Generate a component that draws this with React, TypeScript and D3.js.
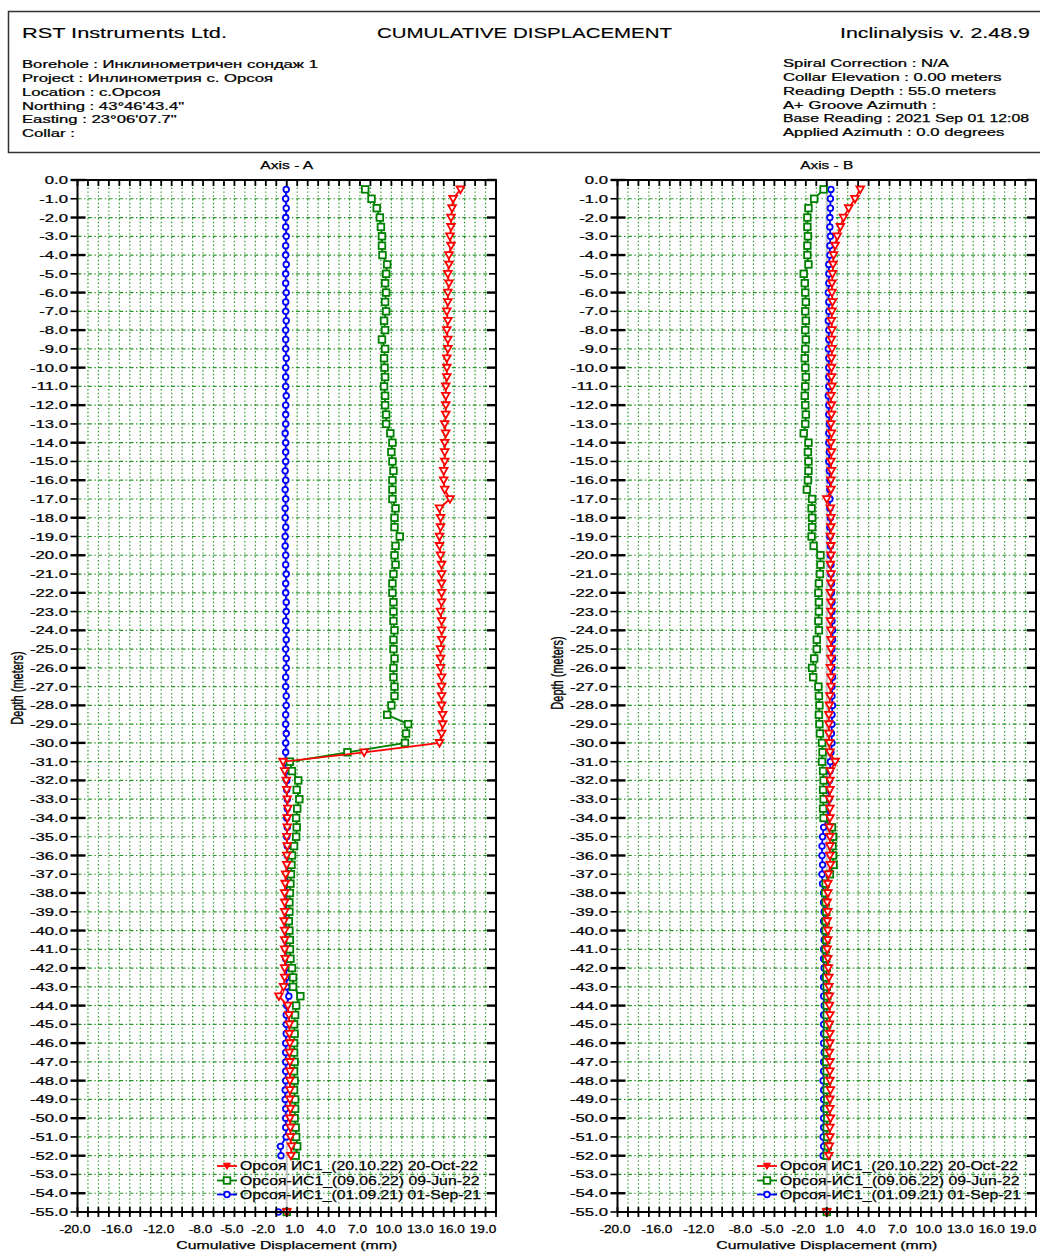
import React from "react";
import * as d3 from "d3";

const FONT = "'Liberation Sans', Arial, Helvetica, sans-serif";
const STRETCH = 1.45;

// ---- axes / categories ----
const DEPTH_STEP = 0.5; // reading interval (m)
const DEPTH_MAX = 55;
const X_MIN = -20;
const X_MAX = 20;
const xTickValues = [-20, -16, -12, -8, -5, -2, 1, 4, 7, 10, 13, 16, 19];
const xTickLabels = ["-20.0", "-16.0", "-12.0", "-8.0", "-5.0", "-2.0", "1.0", "4.0", "7.0", "10.0", "13.0", "16.0", "19.0"];

const headerLeft = [
  "Borehole : Инклинометричен сондаж 1",
  "Project : Инлинометрия с. Орсоя",
  "Location : с.Орсоя",
  "Northing : 43°46'43.4\"",
  "Easting : 23°06'07.7\"",
  "Collar :",
];
const headerRight = [
  "Spiral Correction : N/A",
  "Collar Elevation : 0.00 meters",
  "Reading Depth : 55.0 meters",
  "A+ Groove Azimuth :",
  "Base Reading : 2021 Sep 01 12:08",
  "Applied Azimuth : 0.0 degrees",
];
const legendLabels = [
  "Орсоя ИС1_(20.10.22) 20-Oct-22",
  "Орсоя-ИС1_(09.06.22) 09-Jun-22",
  "Орсоя-ИС1_(01.09.21) 01-Sep-21",
];

// ---- Axis A data: depth 0.5 .. 52.0 m ----
const axisA_oct22 = [
  16.6, 15.9, 15.8, 15.7, 15.7, 15.6, 15.7, 15.5, 15.5, 15.4,
  15.5, 15.4, 15.4, 15.3, 15.4, 15.3, 15.4, 15.4, 15.3, 15.3,
  15.3, 15.2, 15.2, 15.2, 15.2, 15.1, 15.2, 15.1, 15.1, 15.1,
  15.0, 15.0, 15.1, 15.6, 14.6, 14.7, 14.7, 14.6, 14.6, 14.7,
  14.8, 14.8, 14.8, 14.8, 14.8, 14.7, 14.8, 14.8, 14.8, 14.7,
  14.7, 14.7, 14.8, 14.8, 14.8, 14.8, 14.9, 14.9, 14.8, 14.6,
  7.4, -0.35, -0.2, -0.05, 0.0, 0.05, 0.1, 0.05, 0.05, 0.0,
  0.05, 0.0, 0.0, -0.1, -0.15, -0.2, -0.2, -0.2, -0.25, -0.2,
  -0.2, -0.2, -0.15, -0.2, -0.2, -0.3, -0.75, 0.1, 0.2, 0.25,
  0.25, 0.3, 0.25, 0.3, 0.3, 0.3, 0.3, 0.3, 0.35, 0.3,
  0.35, 0.35, 0.45, 0.4,
];
const axisA_jun22 = [
  7.5, 8.1, 8.6, 8.9, 9.0, 9.1, 9.1, 9.15, 9.6, 9.5,
  9.4, 9.5, 9.4, 9.5, 9.3, 9.4, 9.1, 9.4, 9.3, 9.35,
  9.4, 9.3, 9.4, 9.4, 9.5, 9.5, 9.9, 10.1, 10.0, 10.1,
  10.2, 10.1, 10.1, 10.1, 10.4, 10.3, 10.3, 10.8, 10.4, 10.3,
  10.4, 10.2, 10.1, 10.1, 10.2, 10.2, 10.2, 10.3, 10.2, 10.2,
  10.3, 10.2, 10.2, 10.3, 10.3, 10.0, 9.6, 11.6, 11.4, 11.3,
  5.8, 0.3, 0.5, 1.1, 0.95, 1.2, 1.0, 0.9, 0.95, 0.9,
  0.7, 0.5, 0.45, 0.4, 0.35, 0.3, 0.25, 0.25, 0.2, 0.25,
  0.3, 0.3, 0.35, 0.5, 0.6, 0.6, 1.3, 0.9, 0.8, 0.7,
  0.75, 0.7, 0.7, 0.75, 0.7, 0.75, 0.7, 0.8, 0.8, 0.75,
  0.85, 0.9, 1.0, 0.85,
];
const axisA_sep21 = [
  -0.05, -0.1, -0.05, -0.1, -0.1, -0.05, -0.1, -0.1, -0.05, -0.1,
  -0.1, -0.05, -0.1, -0.1, -0.05, -0.1, -0.1, -0.1, -0.05, -0.1,
  -0.1, -0.1, -0.05, -0.1, -0.1, -0.1, -0.15, -0.1, -0.1, -0.1,
  -0.15, -0.1, -0.15, -0.1, -0.15, -0.15, -0.1, -0.15, -0.15, -0.1,
  -0.1, -0.05, -0.1, -0.1, -0.05, -0.05, -0.1, -0.05, -0.05, -0.1,
  -0.05, -0.05, -0.1, -0.1, -0.05, -0.05, -0.1, -0.1, -0.05, -0.1,
  -0.1, -0.15, -0.1, 0.0, 0.0, 0.05, 0.05, 0.0, 0.05, 0.0,
  0.05, 0.05, 0.1, 0.05, 0.0, -0.05, -0.05, -0.1, -0.1, -0.1,
  -0.1, -0.1, -0.1, -0.1, -0.05, 0.0, 0.2, 0.0, -0.05, -0.05,
  -0.05, -0.1, -0.1, -0.1, -0.1, -0.1, -0.15, -0.15, -0.1, -0.1,
  -0.1, -0.05, -0.6, -0.55,
];
// isolated readings at 55.0 m
const axisA_bottom = [0.0, 0.0, -0.8]; // oct22, jun22, sep21

// ---- Axis B data: depth 0.5 .. 52.0 m ----
const axisB_oct22 = [
  3.2, 2.7, 2.1, 1.6, 1.3, 1.0, 0.8, 0.65, 0.6, 0.55,
  0.5, 0.5, 0.55, 0.5, 0.45, 0.5, 0.45, 0.5, 0.45, 0.45,
  0.45, 0.5, 0.4, 0.45, 0.45, 0.4, 0.45, 0.4, 0.45, 0.4,
  0.45, 0.4, 0.4, 0.0, 0.35, 0.4, 0.4, 0.35, 0.4, 0.4,
  0.35, 0.4, 0.4, 0.35, 0.4, 0.4, 0.35, 0.4, 0.4, 0.4,
  0.4, 0.35, 0.4, 0.4, 0.3, 0.25, 0.2, 0.2, 0.2, 0.25,
  0.3, 0.8, 0.35, 0.3, 0.3, 0.25, 0.3, 0.3, 0.25, 0.3,
  0.3, 0.3, 0.35, 0.15, 0.1, 0.1, 0.05, 0.1, 0.05, 0.1,
  0.1, 0.05, 0.1, 0.15, 0.2, 0.2, 0.25, 0.25, 0.3, 0.25,
  0.3, 0.3, 0.25, 0.3, 0.3, 0.3, 0.35, 0.3, 0.3, 0.35,
  0.3, 0.3, 0.25, 0.2,
];
const axisB_jun22 = [
  -0.3, -1.2, -1.75, -1.85, -1.85, -1.8, -1.85, -1.85, -1.75, -2.2,
  -2.1, -2.05, -2.0, -2.05, -2.0, -2.05, -2.0, -2.05, -2.1, -2.05,
  -2.0, -2.05, -2.1, -2.05, -2.0, -2.05, -2.2, -1.75, -1.8, -1.75,
  -1.75, -1.8, -1.9, -1.4, -1.45, -1.4, -1.4, -1.45, -1.25, -0.6,
  -0.6, -0.65, -0.75, -0.8, -0.75, -0.75, -0.8, -0.75, -0.95, -0.95,
  -1.2, -1.4, -1.3, -0.8, -0.75, -0.7, -0.75, -0.7, -0.65, -0.45,
  -0.4, -0.45, -0.35, -0.3, -0.35, -0.3, -0.35, -0.3, 0.5, 0.6,
  0.55, 0.6, 0.65, 0.3, -0.1, -0.15, -0.1, -0.05, -0.1, -0.1,
  -0.05, -0.1, -0.05, 0.0, -0.05, 0.0, 0.05, 0.0, 0.0, 0.05,
  0.0, 0.05, 0.0, -0.05, 0.0, 0.05, 0.0, 0.05, 0.0, 0.05,
  0.0, 0.05, 0.1, 0.0,
];
const axisB_sep21 = [
  0.4, 0.35, 0.35, 0.3, 0.3, 0.35, 0.3, 0.3, 0.2, 0.2,
  0.2, 0.15, 0.2, 0.2, 0.15, 0.2, 0.2, 0.15, 0.2, 0.2,
  0.2, 0.2, 0.15, 0.2, 0.2, 0.25, 0.2, 0.2, 0.25, 0.2,
  0.25, 0.3, 0.3, 0.3, 0.3, 0.35, 0.3, 0.3, 0.35, 0.35,
  0.4, 0.4, 0.45, 0.45, 0.5, 0.5, 0.5, 0.55, 0.55, 0.5,
  0.55, 0.5, 0.55, 0.5, 0.5, 0.55, 0.5, 0.5, 0.45, 0.5,
  0.4, 0.35, 0.3, 0.25, 0.2, 0.2, 0.15, 0.1, -0.3, -0.4,
  -0.45, -0.45, -0.4, -0.45, -0.4, -0.3, -0.3, -0.25, -0.3, -0.3,
  -0.25, -0.3, -0.3, -0.25, -0.3, -0.3, -0.3, -0.25, -0.3, -0.3,
  -0.3, -0.3, -0.25, -0.3, -0.3, -0.35, -0.3, -0.3, -0.3, -0.3,
  -0.3, -0.35, -0.3, -0.35,
];
const axisB_bottom = [0.0, 0.0, 0.0];

// ---- layout ----
const W = 1040;
const H = 1254;
const Y_TOP = 180;
const Y_BOT = 1212;
const COLORS = ["#ff0000", "#008000", "#0000ff"];
const GRID = "#2a962a";

type STProps = {
  x: number; y: number; size: number; anchor?: string; len?: number; sx?: number;
  children: React.ReactNode; baseline?: string; rotate?: number; heavy?: number;
};
function ST({ x, y, size, anchor = "start", len, sx = STRETCH, children, baseline, rotate, heavy = 0.25 }: STProps) {
  const common = {
    fontSize: size,
    textAnchor: anchor as any,
    dominantBaseline: baseline as any,
    fontFamily: FONT,
    fill: "#000",
    stroke: "#000",
    strokeWidth: heavy,
  };
  if (len) {
    return (
      <text x={x} y={y} textLength={len} lengthAdjust="spacingAndGlyphs" {...common}>
        {children}
      </text>
    );
  }
  const t = `translate(${x},${y}) scale(${sx},1)` + (rotate ? ` rotate(${rotate})` : "");
  return (
    <text transform={t} {...common}>
      {children}
    </text>
  );
}

function Marker({ kind, cx, cy }: { kind: number; cx: number; cy: number }) {
  if (kind === 0) {
    return (
      <path d={`M${cx - 3.8},${cy - 2.9}L${cx + 3.8},${cy - 2.9}L${cx},${cy + 3.8}Z`}
        fill="#fff" stroke={COLORS[0]} strokeWidth={1.8} />
    );
  }
  if (kind === 1) {
    return <rect x={cx - 3.3} y={cy - 3.3} width={6.6} height={6.6} fill="#fff" stroke={COLORS[1]} strokeWidth={1.8} />;
  }
  return <circle cx={cx} cy={cy} r={2.8} fill="#fff" stroke={COLORS[2]} strokeWidth={1.8} />;
}

type PlotProps = {
  x0: number; x1: number; title: string; series: number[][]; bottom: number[]; depthLabelY: number;
};

function Plot({ x0, x1, title, series, bottom, depthLabelY }: PlotProps) {
  const x = d3.scaleLinear().domain([X_MIN, X_MAX]).range([x0, x1]);
  const y = d3.scaleLinear().domain([0, DEPTH_MAX]).range([Y_TOP, Y_BOT]);
  const depthOf = (i: number) => (i + 1) * DEPTH_STEP;
  const line = d3.line<number>().x((v) => x(v)).y((_, i) => y(depthOf(i)));
  const gridX = d3.range(X_MIN + 1, X_MAX);
  const gridY = d3.range(1, DEPTH_MAX);
  const tickX = d3.range(X_MIN, X_MAX + 1);
  const tickY = d3.range(0, DEPTH_MAX + 1);
  const cx = (x0 + x1) / 2;
  const drawOrder = [2, 1, 0];
  const legendRows = [1166, 1180.5, 1194.5];

  return (
    <g>
      {/* grid */}
      {gridX.map((v) => (
        <line key={"gx" + v} x1={x(v)} x2={x(v)} y1={Y_TOP} y2={Y_BOT} stroke={GRID}
          strokeWidth={1.2} strokeDasharray="1.4,2.4" />
      ))}
      {gridY.map((d) => (
        <line key={"gy" + d} x1={x0} x2={x1} y1={y(d)} y2={y(d)} stroke={GRID}
          strokeWidth={1.2} strokeDasharray="4,2.5,1.4,2.5" />
      ))}
      {/* zero line */}
      <line x1={x(0)} x2={x(0)} y1={Y_TOP} y2={Y_BOT} stroke="#c4c4c4" strokeWidth={2} />

      {/* series */}
      {drawOrder.map((k) => (
        <g key={"s" + k}>
          <path d={line(series[k]) || ""} fill="none" stroke={COLORS[k]} strokeWidth={1.8} />
          {series[k].map((v, i) => (
            <Marker key={i} kind={k} cx={x(v)} cy={y(depthOf(i))} />
          ))}
          <Marker kind={k} cx={x(bottom[k])} cy={y(DEPTH_MAX)} />
        </g>
      ))}

      {/* frame */}
      <rect x={x0} y={Y_TOP} width={x1 - x0} height={Y_BOT - Y_TOP} fill="none" stroke="#000" strokeWidth={2} />
      {/* x ticks top & bottom */}
      {tickX.map((v) => (
        <g key={"tx" + v}>
          <line x1={x(v)} x2={x(v)} y1={Y_TOP} y2={Y_TOP + 6} stroke="#000" strokeWidth={1.8} />
          <line x1={x(v)} x2={x(v)} y1={Y_BOT - 5} y2={Y_BOT + 5} stroke="#000" strokeWidth={1.8} />
        </g>
      ))}
      {/* y ticks left & right */}
      {tickY.map((d) => {
        const major = d % 2 === 0;
        return (
          <g key={"ty" + d}>
            <line x1={x0 - 7} x2={x0 + (major ? 8 : 0)} y1={y(d)} y2={y(d)} stroke="#000" strokeWidth={major ? 2.4 : 1.6} />
            <line x1={x1 - (major ? 9 : 7)} x2={x1} y1={y(d)} y2={y(d)} stroke="#000" strokeWidth={major ? 2.4 : 1.6} />
            <ST x={x0 - 9.5} y={y(d)} size={11.5} anchor="end" baseline="central">
              {d === 0 ? "0.0" : `-${d}.0`}
            </ST>
          </g>
        );
      })}
      {/* x tick labels */}
      {xTickValues.map((v, i) => (
        <ST key={"xl" + v} x={x(v) - 2.5} y={1233} size={10.5} anchor="middle" sx={1.3}>
          {xTickLabels[i]}
        </ST>
      ))}
      {/* titles */}
      <ST x={cx} y={169} size={11.5} anchor="middle" len={53}>{title}</ST>
      <ST x={cx} y={1249} size={11.5} anchor="middle" len={221}>Cumulative Displacement (mm)</ST>
      <ST x={x0 - 60} y={depthLabelY} size={11} anchor="middle" baseline="central" rotate={-90}>
        Depth (meters)
      </ST>

      {/* legend */}
      {legendRows.map((ly, k) => (
        <g key={"lg" + k}>
          <line x1={x0 + 139.5} x2={x0 + 159.5} y1={ly} y2={ly} stroke={COLORS[k]} strokeWidth={1.8} />
          {k === 0 ? (
            <path d={`M${x0 + 146},${ly - 2.8}L${x0 + 153},${ly - 2.8}L${x0 + 149.5},${ly + 3.4}Z`} fill={COLORS[0]} stroke={COLORS[0]} strokeWidth={1} />
          ) : (
            <Marker kind={k} cx={x0 + 149.5} cy={ly} />
          )}
          <ST x={x0 + 162.5} y={ly + 4.3} size={12} len={238 + k * 1.5}>{legendLabels[k]}</ST>
        </g>
      ))}
    </g>
  );
}

export default function App() {
  const infoY = [68, 82, 96, 109.5, 123, 137];
  const rightLen: Record<number, number> = { 4: 246 };
  return (
    <svg width={W} height={H} viewBox={`0 0 ${W} ${H}`}
      style={{ position: "absolute", left: 0, top: 0, background: "#fff" }}>
      <rect x={0} y={0} width={W} height={H} fill="#fff" />
      {/* header box */}
      <rect x={8.5} y={11.5} width={1060} height={141} fill="none" stroke="#333" strokeWidth={1.5} />
      <ST x={22} y={38} size={15} len={205} heavy={0.15}>RST Instruments Ltd.</ST>
      <ST x={377} y={38} size={15} len={295} heavy={0.15}>CUMULATIVE DISPLACEMENT</ST>
      <ST x={840} y={38} size={15} len={190} heavy={0.15}>Inclinalysis v. 2.48.9</ST>
      {headerLeft.map((t, i) => (
        <ST key={"hl" + i} x={22} y={infoY[i]} size={11.5}>{t}</ST>
      ))}
      {headerRight.map((t, i) => (
        <ST key={"hr" + i} x={783} y={infoY[i] - 1} size={11.5} len={rightLen[i]}>{t}</ST>
      ))}

      <Plot x0={77.5} x1={496} title="Axis - A"
        series={[axisA_oct22, axisA_jun22, axisA_sep21]} bottom={axisA_bottom} depthLabelY={688} />
      <Plot x0={617.5} x1={1036} title="Axis - B"
        series={[axisB_oct22, axisB_jun22, axisB_sep21]} bottom={axisB_bottom} depthLabelY={673} />
    </svg>
  );
}
